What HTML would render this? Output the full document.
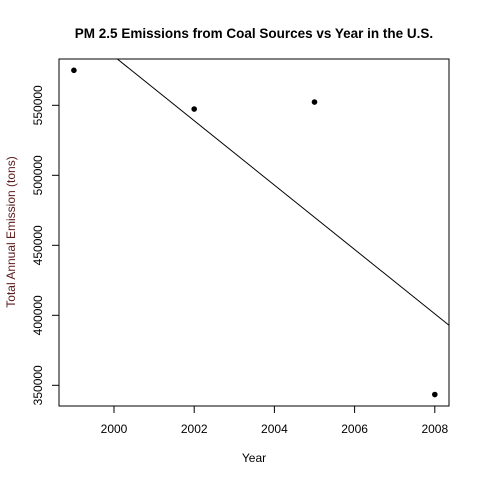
<!DOCTYPE html>
<html><head><meta charset="utf-8"><style>body{margin:0;background:#fff}svg{display:block;font-family:"Liberation Sans",Arial,sans-serif}</style></head>
<body>
<svg id="chart" width="480" height="480">
<defs><clipPath id="clip"><rect x="59" y="59" width="390" height="347"/></clipPath></defs>
<text x="254" y="38" text-anchor="middle" font-size="13.5" font-weight="bold">PM 2.5 Emissions from Coal Sources vs Year in the U.S.</text>
<rect x="59" y="59" width="390" height="347" fill="none" stroke="#000"/>
<text x="254" y="462" text-anchor="middle" font-size="12">Year</text>
<text transform="translate(15,232) rotate(-90)" text-anchor="middle" font-size="12" fill="#5a1a1a">Total Annual Emission (tons)</text>
<g id="xaxis"></g><g id="yaxis"></g><g id="marks" clip-path="url(#clip)"></g>
</svg>
<script>
const years=[1999,2002,2005,2008];
const emissions=[575000,547300,552300,343400];
const xTicks=[2000,2002,2004,2006,2008];
const yTicks=[350000,400000,450000,500000,550000];
const NS="http://www.w3.org/2000/svg";
const x=v=>114+(v-2000)*40.1;
const y=v=>385.3-(v-350000)*0.0014;
function mk(t,a,p){const e=document.createElementNS(NS,t);for(const k in a)e.setAttribute(k,a[k]);p.appendChild(e);return e;}
const xa=document.getElementById('xaxis'),ya=document.getElementById('yaxis'),mg=document.getElementById('marks');
xTicks.forEach(t=>{
 const l=mk('line',{x1:x(t),x2:x(t),y1:406,y2:413,stroke:'#000'},xa);
 
 
 const tx=mk('text',{x:x(t),y:433,'text-anchor':'middle','font-size':12},xa);tx.textContent=t;
 
 
});
yTicks.forEach(t=>{
 const l=mk('line',{x1:52,x2:59,y1:y(t),y2:y(t),stroke:'#000'},ya);
 
 
 const tx=mk('text',{x:0,y:0,'text-anchor':'middle','font-size':12,transform:`translate(42,${y(t)}) rotate(-90)`},ya);tx.textContent=t;
 
 
});
years.forEach((yr,i)=>{
 const c=mk('circle',{cx:x(yr),cy:y(emissions[i]),r:2.8,fill:'#000'},mg);
 
 
});
const n=years.length,mx=years.reduce((a,b)=>a+b)/n,my=emissions.reduce((a,b)=>a+b)/n;
let sxy=0,sxx=0;years.forEach((v,i)=>{sxy+=(v-mx)*(emissions[i]-my);sxx+=(v-mx)**2;});
const b=sxy/sxx,a=my-b*mx;
const ln=mk('line',{x1:x(1998),y1:y(a+b*1998),x2:x(2010),y2:y(a+b*2010),stroke:'#000','stroke-width':1},mg);


</script>
</body></html>
